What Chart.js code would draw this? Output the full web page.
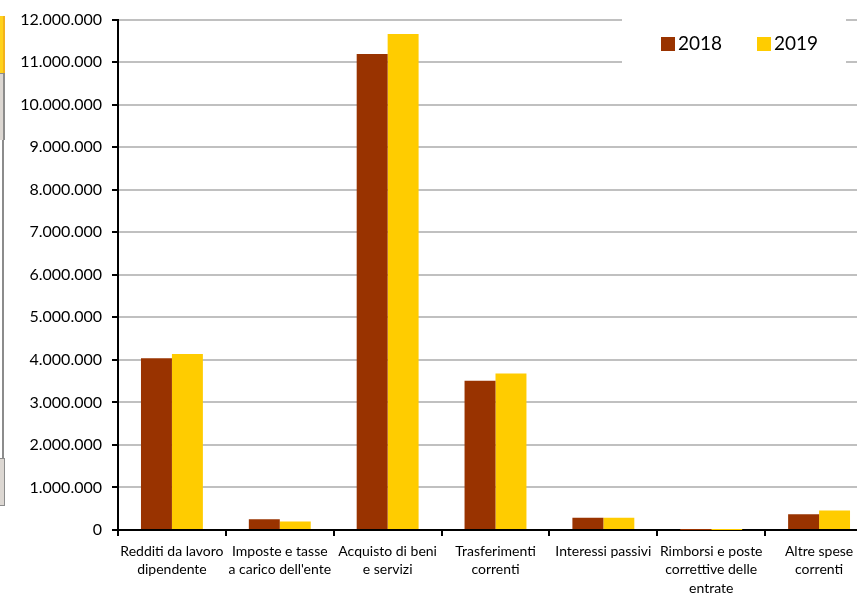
<!DOCTYPE html>
<html lang="it">
<head>
    <meta charset="UTF-8">
    <title>Spese correnti 2018 - 2019</title>
    <script src="https://cdn.jsdelivr.net/npm/chart.js@4/dist/chart.umd.min.js"></script>
    <style>
        html, body { margin: 0; padding: 0; overflow: hidden; background: #fff; }
        #wrap { position: relative; width: 857px; height: 594px; overflow: hidden; }
        #myChart { position: absolute; left: 0; top: 0; }
        .bordo { position: absolute; left: 0; box-sizing: border-box; }
    </style>
</head>
<body>
<div id="wrap">
    <canvas id="myChart" width="874" height="594"></canvas>
    <!-- pezzi di finestra rimasti sul bordo sinistro -->
    <div class="bordo" style="top:16px;height:57px;width:5px;background:#ffd21c;border-right:2px solid #f3b21b;"></div>
    <div class="bordo" style="top:73px;height:67px;width:5px;background:#dcd7d2;border-right:2px solid #8c8c8c;border-top:1px solid #8c8c8c;"></div>
    <div class="bordo" style="top:140px;height:318px;width:4px;border-right:2px solid #8c8c8c;"></div>
    <div class="bordo" style="top:458px;height:48px;width:5px;background:#dcd7d2;border:1px solid #8c8c8c;border-left:none;"></div>
</div>

<script>
    // categorie (etichette su più righe)
    var categorie = [
        ['Redditi da lavoro', 'dipendente'],
        ['Imposte e tasse', "a carico dell'ente"],
        ['Acquisto di beni', 'e servizi'],
        ['Trasferimenti', 'correnti'],
        ['Interessi passivi'],
        ['Rimborsi e poste', 'correttive delle', 'entrate'],
        ['Altre spese', 'correnti']
    ];
    var anni = ['2018', '2019'];
    var valori2018 = [4040000, 250000, 11190000, 3510000, 290000, 2000, 370000];
    var valori2019 = [4140000, 200000, 11660000, 3680000, 290000, 2000, 460000];
    var yTicks = [0, 1000000, 2000000, 3000000, 4000000, 5000000, 6000000,
                  7000000, 8000000, 9000000, 10000000, 11000000, 12000000];

    var colori = ['#993300', '#FFCC00'];
    var font = 'Lato, "Open Sans", sans-serif';

    //numeri con il punto come separatore delle migliaia
    function formatta(n) {
        return String(n).replace(/\B(?=(\d{3})+(?!\d))/g, '.');
    }

    // legenda su sfondo bianco in alto a destra
    var legendaPlugin = {
        id: 'legenda',
        beforeDatasetsDraw: function (chart) {
            var ctx = chart.ctx;
            ctx.save();
            ctx.fillStyle = '#fff';
            ctx.fillRect(622, 8, 224, 58);
            ctx.font = '19px ' + font;
            ctx.textBaseline = 'middle';
            var xs = [661, 757];
            for (var i = 0; i < anni.length; i++) {
                ctx.fillStyle = chart.data.datasets[i].backgroundColor;
                ctx.fillRect(xs[i], 37, 14, 14);
                ctx.fillStyle = '#000';
                ctx.fillText(anni[i], xs[i] + 17, 44);
            }
            ctx.restore();
        }
    };

    var ctx = document.getElementById('myChart');
    var myBarChart = new Chart(ctx, {
        type: 'bar',
        data: {
            labels: categorie,
            datasets: [
                { label: anni[0], data: valori2018, backgroundColor: colori[0] },
                { label: anni[1], data: valori2019, backgroundColor: colori[1] }
            ]
        },
        options: {
            responsive: false,
            animation: false,
            layout: { padding: { top: 19, right: 1, left: 0, bottom: 0 } },
            datasets: {
                bar: { categoryPercentage: 0.574, barPercentage: 1.0 }
            },
            plugins: {
                legend: { display: false },
                tooltip: { enabled: false }
            },
            scales: {
                x: {
                    grid: {
                        offset: true,
                        drawOnChartArea: false,
                        color: '#000',
                        tickColor: '#000',
                        tickLength: 6,
                        lineWidth: 2
                    },
                    border: { color: '#000', width: 2 },
                    ticks: {
                        color: '#000',
                        maxRotation: 0,
                        autoSkip: false,
                        padding: 6,
                        font: { family: font, size: 14, lineHeight: 1.33 }
                    },
                    afterFit: function (s) { s.height = 64; }
                },
                y: {
                    min: 0,
                    max: 12000000,
                    afterBuildTicks: function (s) {
                        s.ticks = yTicks.map(function (v) { return { value: v }; });
                    },
                    grid: {
                        color: '#c0c0c0',
                        tickColor: '#000',
                        tickLength: 6,
                        lineWidth: 2
                    },
                    border: { color: '#000', width: 2 },
                    ticks: {
                        color: '#000',
                        padding: 10,
                        font: { family: font, size: 16 },
                        callback: function (v) { return formatta(v); }
                    },
                    afterFit: function (s) { s.width = 118; }
                }
            }
        },
        plugins: [legendaPlugin]
    });
</script>

</body>
</html>
